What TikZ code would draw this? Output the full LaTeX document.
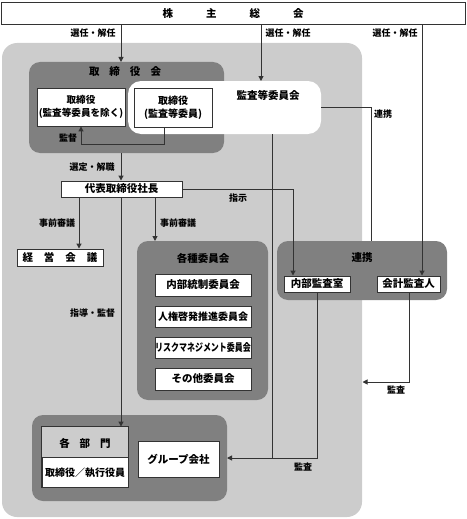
\documentclass[tikz,border=0pt]{standalone}
\usepackage{fontspec}
\setmainfont{Noto Sans CJK JP}
\usetikzlibrary{arrows.meta,calc}
\definecolor{lg}{HTML}{CCCCCC}
\definecolor{dg}{HTML}{808080}
\definecolor{ln}{HTML}{333333}
\begin{document}
\begin{tikzpicture}[x=1pt,y=-1pt,
  every node/.style={font=\bfseries\fontsize{10.5}{12}\selectfont, inner sep=0pt, text=black},
  wbox/.style={draw=ln, line width=0.9pt, fill=white, rectangle},
  lab/.style={font=\bfseries\fontsize{9}{10}\selectfont},
  conn/.style={draw=ln, line width=1pt},
  arr/.style={conn, -{Triangle[length=5pt,width=5pt]}},
  panel/.style={fill=dg, rounded corners=11pt}
]
\useasboundingbox (0,0) rectangle (466,519);
% background light panel
\fill[lg, rounded corners=15pt] (2,43) rectangle (362,517);
% top box
\node[wbox, minimum width=464pt, minimum height=22pt] (shm) at (233,13) {株\hspace{33pt}主\hspace{33pt}総\hspace{33pt}会};
% board panel
\fill[panel] (29,62) rectangle (224,153);
\node (bdtitle) at (125,72) {取\hspace{10pt}締\hspace{10pt}役\hspace{10pt}会};
\coordinate (board) at (126.5,62);
\coordinate (boardS) at (121,153);
% audit committee white box
\fill[white, rounded corners=13pt] (128,81) rectangle (321,134);
\coordinate (acw) at (224.5,81);
\node (actitle) at (268,95) {監査等委員会};
\node[wbox, minimum width=88pt, minimum height=38pt, align=center, font=\bfseries\fontsize{9.6}{13}\selectfont] (dir1) at (81,107) {取締役\\(監査等委員を除く)};
\node[wbox, minimum width=78pt, minimum height=39pt, align=center, font=\bfseries\fontsize{10}{13}\selectfont] (dir2) at (173,107.5) {取締役\\(監査等委員)};
% president
\node[wbox, minimum width=121pt, minimum height=16pt] (pres) at (121.5,189) {代表取締役社長};
% management meeting
\node[wbox, minimum width=86pt, minimum height=17pt] (mgmt) at (60,257.5) {経\hspace{11pt}営\hspace{11pt}会\hspace{11pt}議};
% committees panel
\fill[panel] (137,241) rectangle (268,400);
\coordinate (comm) at (155,241);
\node (commtitle) at (203,258) {各種委員会};
\node[wbox, minimum width=96pt, minimum height=22pt] (c1) at (203,285) {内部統制委員会};
\node[wbox, minimum width=96pt, minimum height=21pt] (c2) at (203,316.5) {\fontsize{10}{12}\selectfont 人権啓発推進委員会};
\node[wbox, minimum width=96pt, minimum height=21pt] (c3) at (203,347.5) {\scalebox{0.76}[1]{\fontsize{10.5}{12}\selectfont リスクマネジメント委員会}};
\node[wbox, minimum width=96pt, minimum height=22pt] (c4) at (203,379) {その他委員会};
% renkei panel
\fill[panel] (277,241) rectangle (447,300);
\coordinate (renk) at (362,241);
\node (rktitle) at (362,258) {連携};
\node[wbox, minimum width=66pt, minimum height=16pt] (ia) at (317,284) {内部監査室};
\node[wbox, minimum width=63pt, minimum height=16pt] (ea) at (408.5,284) {会計監査人};
% bottom panel
\fill[panel] (32,415) rectangle (227,501);
\coordinate (bot) at (227,458);
\node[wbox, minimum width=86pt, minimum height=60pt] (dept) at (85,457) {};
\fill[lg] ([xshift=0.45pt,yshift=-0.45pt]dept.north west) rectangle ([xshift=-0.45pt]dept.east);
\draw[ln, line width=0.9pt] (dept.north west) rectangle (dept.south east);
\draw[ln, line width=0.9pt] (dept.west) -- (dept.east);
\node (depttitle) at (85,443) {各\hspace{10pt}部\hspace{10pt}門};
\node (deptsub) at (85,473) {\fontsize{10}{12}\selectfont 取締役／執行役員};
\node[wbox, minimum width=81pt, minimum height=36pt] (grp) at (178.5,459) {グループ会社};
% x positions
\coordinate (x121) at (121,0);
\coordinate (x261) at (261,0);
\coordinate (x422) at (422,0);
\coordinate (x79) at (79,0);
\coordinate (x155) at (155,0);
\coordinate (x293) at (293,0);
\coordinate (x272) at (272,0);
\coordinate (x371) at (371,0);
\coordinate (x409) at (409,0);
\coordinate (y144) at (0,144);
% connectors
\draw[arr] (shm.south -| x121) -- (board -| x121);
\node[lab] at (93,33) {選任・解任};
\draw[arr] (shm.south -| x261) -- (acw -| x261);
\node[lab] at (288,33) {選任・解任};
\draw[arr] (shm.south -| x422) -- (ea.north -| x422);
\node[lab] at (395,33) {選任・解任};
\draw[arr] (dir2.south -| 164,0) -- (y144 -| 164,0) -- (y144 -| dir1.south) -- (dir1.south);
\node[lab] at (68,138) {監督};
\draw[arr] (boardS) -- (pres.north -| x121);
\node[lab] at (92,167) {選定・解職};
\draw[arr] (pres.south -| x79) -- (mgmt.north -| x79);
\node[lab] at (57,223) {事前審議};
\draw[arr] (pres.south -| x155) -- (comm);
\node[lab] at (178,223) {事前審議};
\draw[arr] (pres.south -| x121) -- (dept.north -| x121);
\node[lab] at (92.5,313) {指導・監督};
\draw[arr] (pres.east) -| (ia.north -| x293);
\node[lab] at (238,198) {指示};
\draw[conn] (321,107) -| (renk -| x371);
\node[lab] at (383,114) {連携};
\draw[conn] (134,134 -| x272) -- (bot -| x272);
\draw[arr] (ia.south) |- (bot);
\node[lab] at (303,467) {監査};
\draw[arr] (ea.south -| x409) |- (362.5,382);
\node[lab] at (396,390) {監査};
\end{tikzpicture}
\end{document}
